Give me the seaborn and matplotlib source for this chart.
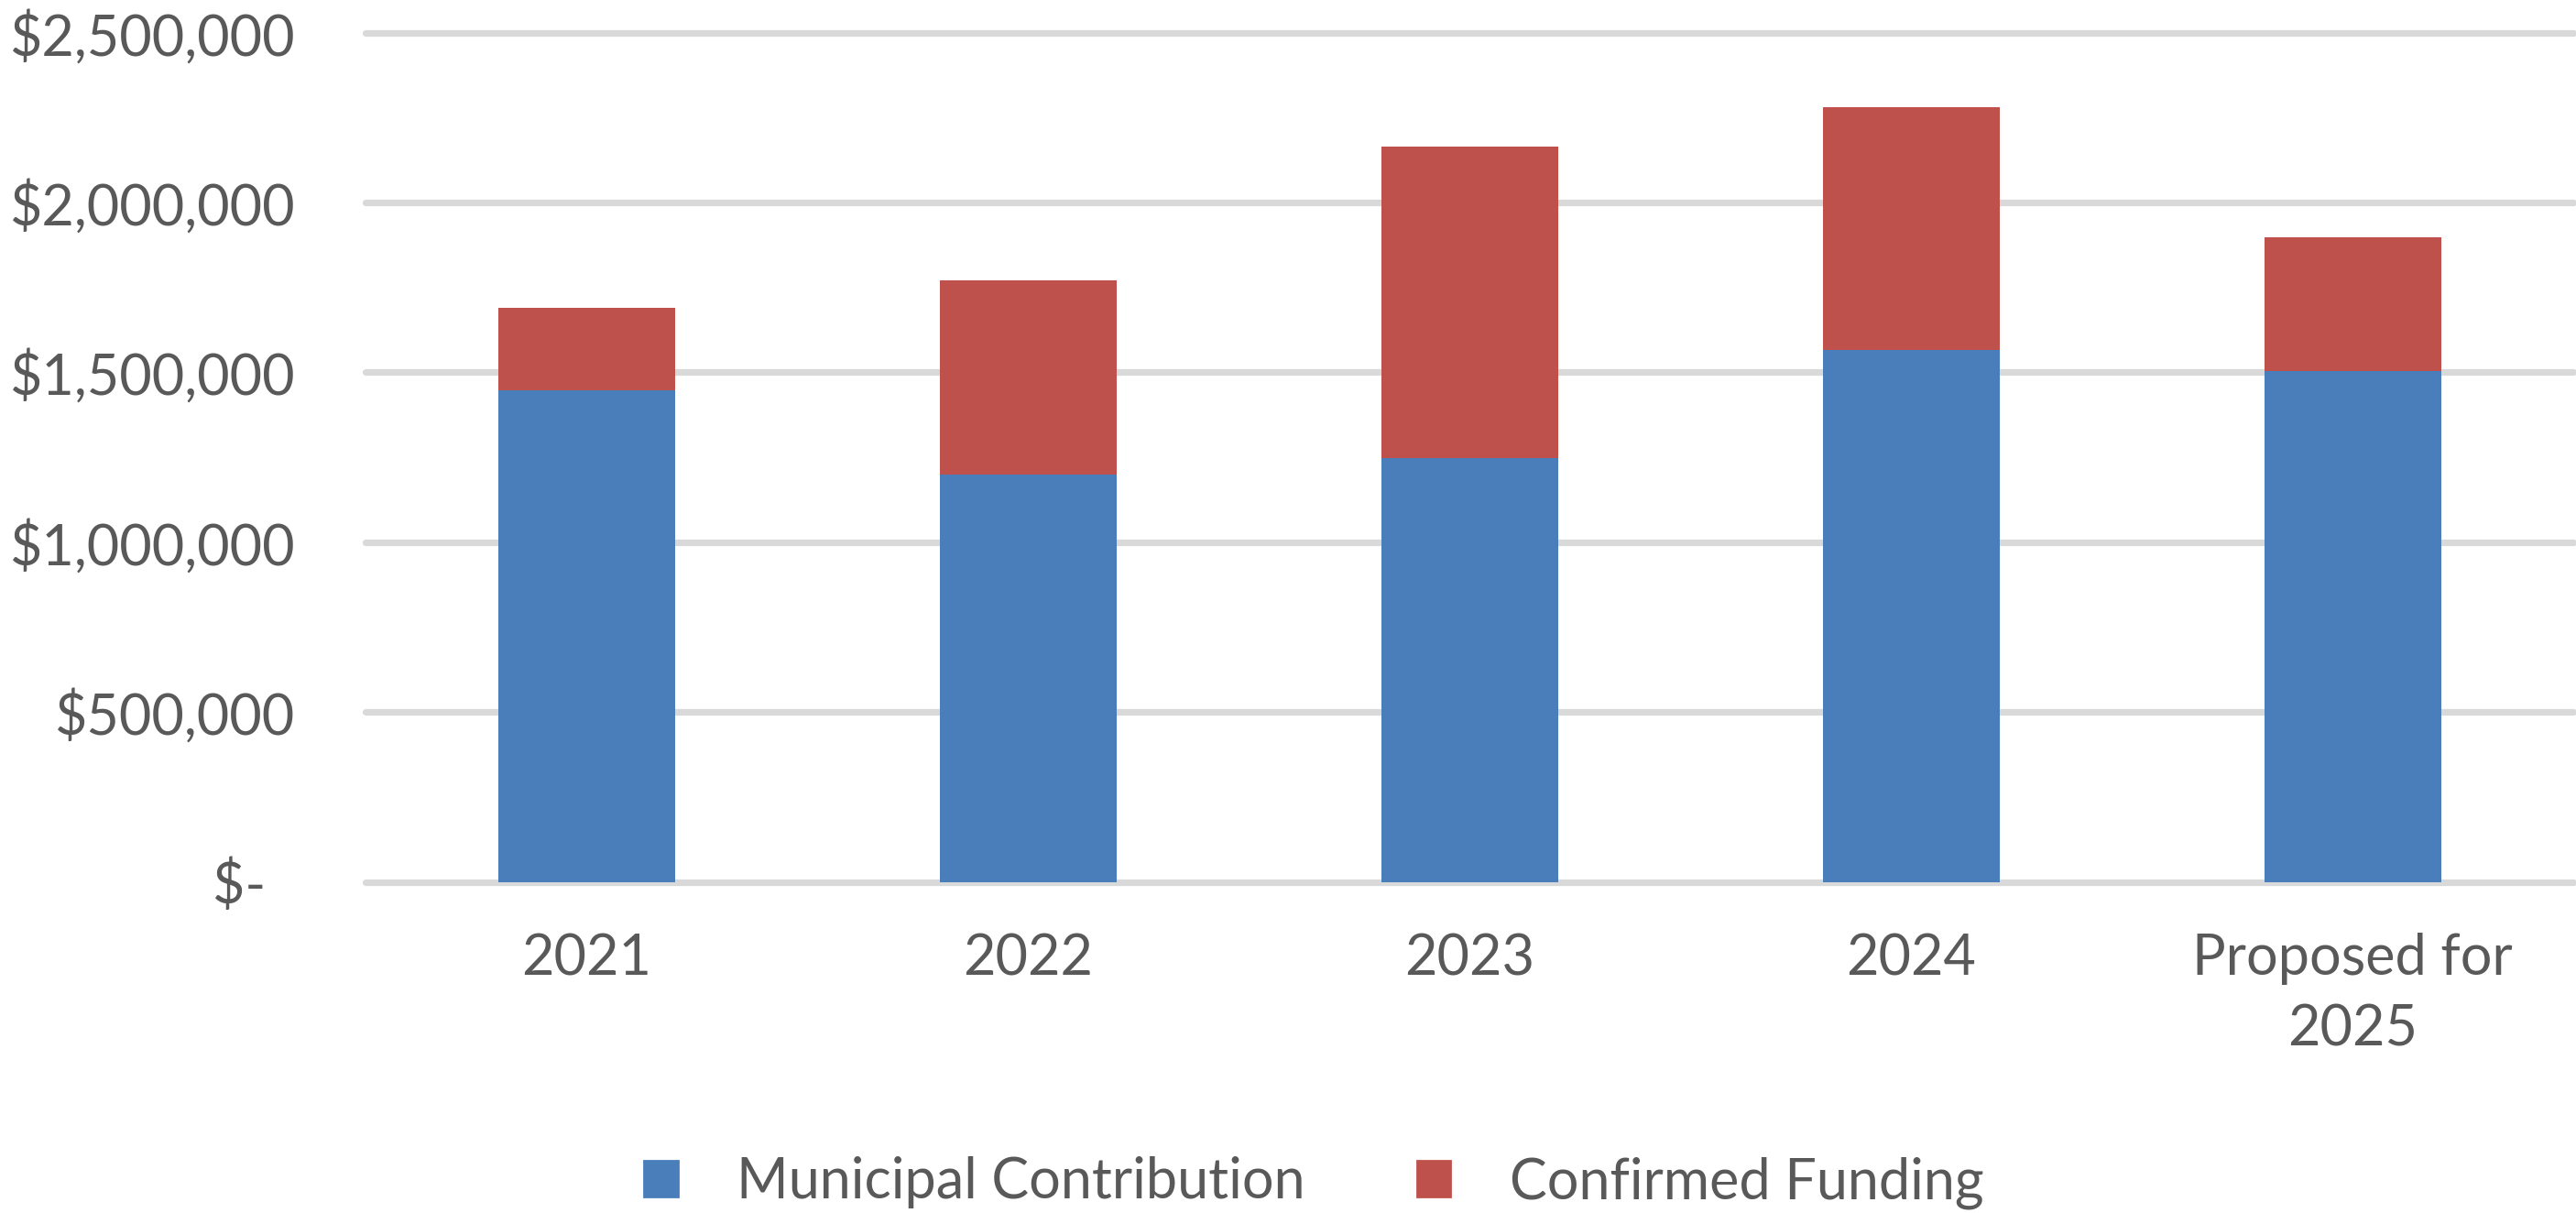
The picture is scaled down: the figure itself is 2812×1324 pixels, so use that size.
import pandas as pd
import matplotlib.pyplot as plt
import seaborn as sns

# chart data
years = ['2021', '2022', '2023', '2024', 'Proposed for\n2025']
municipal = [1446000, 1199000, 1247000, 1565000, 1505000]
confirmed = [245000, 572000, 917000, 717000, 393000]
yticks = [0, 500000, 1000000, 1500000, 2000000, 2500000]
ytick_labels = ['$-  ', '$500,000', '$1,000,000', '$1,500,000', '$2,000,000', '$2,500,000']

BLUE = '#4A7EBB'
RED = '#BE514C'
TEXT = '#595959'

df = pd.DataFrame({'year': years, 'municipal': municipal, 'confirmed': confirmed})
df['total'] = df['municipal'] + df['confirmed']

sns.set_style('white')
plt.rcParams['font.family'] = ['Lato', 'DejaVu Sans']

fig = plt.figure(figsize=(14.06, 6.62), dpi=200)
ax = fig.add_axes([0.142, 0.273, 0.857, 0.700])

# stacked bars: total first (red), municipal on top (blue)
sns.barplot(data=df, x='year', y='total', color=RED, width=0.4, saturation=1,
            linewidth=0, ax=ax)
sns.barplot(data=df, x='year', y='municipal', color=BLUE, width=0.4, saturation=1,
            linewidth=0, ax=ax)

ax.set_xlim(-0.5, 4.5)
ax.set_ylim(0, 2500000)
ax.set_yticks(yticks)
ax.set_yticklabels(ytick_labels)
ax.set_xlabel('')
ax.set_ylabel('')
sns.despine(ax=ax, left=True, bottom=True)
ax.tick_params(axis='y', length=0, pad=28, labelsize=22, labelcolor=TEXT)
ax.tick_params(axis='x', length=0, pad=20, labelsize=22, labelcolor=TEXT)
for lab in ax.get_xticklabels():
    lab.set_linespacing(1.45)

ax.set_axisbelow(True)
ax.yaxis.grid(True, color='#D9D9D9', linewidth=2.6)
ax.xaxis.grid(False)
for gl in ax.get_ygridlines():
    gl.set_clip_on(False)

# legend
handles = [plt.Rectangle((0, 0), 1, 1, color=BLUE), plt.Rectangle((0, 0), 1, 1, color=RED)]
fig.legend(handles, ['Municipal Contribution', 'Confirmed Funding'],
           loc='center', bbox_to_anchor=(0.51, 0.025), ncol=2, frameon=False,
           fontsize=22, labelcolor=TEXT, handlelength=0.6, handleheight=0.6,
           handletextpad=1.05, columnspacing=2.0)

fig.savefig('out.png', dpi=200)
plt.close(fig)
